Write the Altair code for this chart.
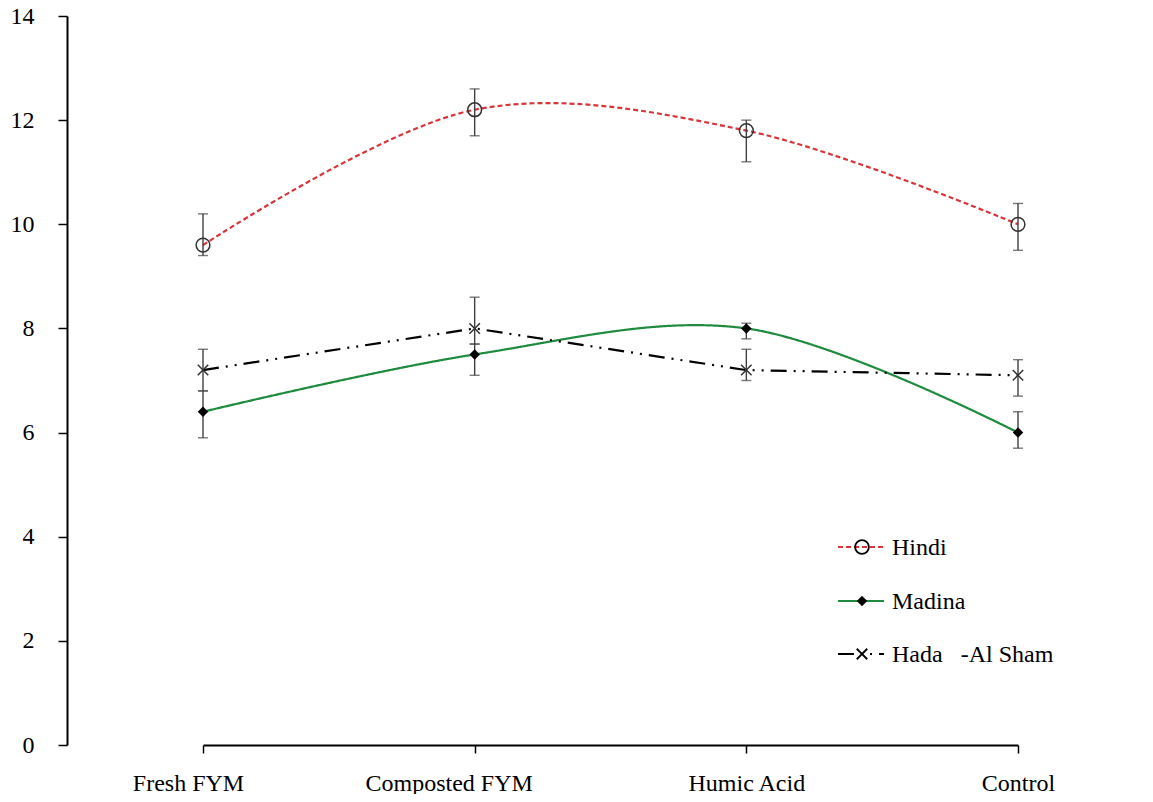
import altair as alt
import pandas as pd

categories = ["Fresh FYM", "Composted FYM", "Humic Acid", "Control"]
series = ["Hindi", "Madina", "Hada  -Al Sham"]

hindi_mean = [9.6, 12.2, 11.8, 10.0]
hindi_lo = [9.4, 11.7, 11.2, 9.5]
hindi_hi = [10.2, 12.6, 12.0, 10.4]

madina_mean = [6.4, 7.5, 8.0, 6.0]
madina_lo = [5.9, 7.1, 7.8, 5.7]
madina_hi = [6.8, 7.7, 8.1, 6.4]

hada_mean = [7.2, 8.0, 7.2, 7.1]
hada_lo = [6.8, 7.7, 7.0, 6.7]
hada_hi = [7.6, 8.6, 7.6, 7.4]

y_ticks = [0, 2, 4, 6, 8, 10, 12, 14]

FONT = "Times New Roman, Liberation Serif, DejaVu Serif, serif"

data = {
    "Hindi": (hindi_mean, hindi_lo, hindi_hi),
    "Madina": (madina_mean, madina_lo, madina_hi),
    "Hada  -Al Sham": (hada_mean, hada_lo, hada_hi),
}

rows = []
for s in series:
    m, lo, hi = data[s]
    for c, v, l, h in zip(categories, m, lo, hi):
        rows.append({"series": s, "cat": c, "value": v, "lo": l, "hi": h})
df = pd.DataFrame(rows)

style = {
    "Hindi": dict(color="#d7353a", dash=[5, 3], interp="catmull-rom",
                  shape="circle", size=190, filled=False, mcolor="#333333"),
    "Madina": dict(color="#1e8b3e", dash=[1, 0], interp="catmull-rom",
                   shape="diamond", size=110, filled=True, mcolor="#000000"),
    "Hada  -Al Sham": dict(color="#000000", dash=[16, 7, 2, 7, 2, 7], interp="linear",
                           shape="M-1,-1L1,1M-1,1L1,-1", size=110, filled=False, mcolor="#333333"),
}

x_enc = alt.X(
    "cat:N",
    sort=categories,
    scale=alt.Scale(type="point", padding=0, range=[136, 951]),
    axis=alt.Axis(
        title=None,
        labelOffset={
            "condition": [
                {"test": "datum.value === 'Fresh FYM'", "value": -15},
                {"test": "datum.value === 'Composted FYM'", "value": -26},
            ],
            "value": 0,
        },
        labelPadding=18,
        tickSize=8,
        labelAngle=0,
    ),
)
y_enc = alt.Y(
    "value:Q",
    scale=alt.Scale(domain=[0, 14], nice=False),
    axis=alt.Axis(title=None, values=y_ticks, tickSize=9, labelPadding=24),
)

layers = []
for s in series:
    st = style[s]
    sub = df[df.series == s]
    base = alt.Chart(sub)
    line = base.mark_line(
        color=st["color"], strokeWidth=2.2, strokeDash=st["dash"],
        interpolate=st["interp"], strokeCap="butt"
    ).encode(x=x_enc, y=y_enc)
    layers.append(line)

for s in series:
    sub = df[df.series == s]
    base = alt.Chart(sub)
    rule = base.mark_rule(color="#404040", strokeWidth=1.4).encode(
        x=x_enc, y=alt.Y("lo:Q"), y2="hi:Q"
    )
    cap_lo = base.mark_tick(color="#404040", thickness=1.4, size=10).encode(
        x=x_enc, y=alt.Y("lo:Q")
    )
    cap_hi = base.mark_tick(color="#404040", thickness=1.4, size=10).encode(
        x=x_enc, y=alt.Y("hi:Q")
    )
    layers += [rule, cap_lo, cap_hi]

for s in series:
    st = style[s]
    sub = df[df.series == s]
    base = alt.Chart(sub)
    if st["filled"]:
        pt = base.mark_point(shape=st["shape"], size=st["size"], filled=True,
                             color=st["mcolor"], opacity=1)
    else:
        pt = base.mark_point(shape=st["shape"], size=st["size"], filled=False,
                             color=st["mcolor"], strokeWidth=1.5, opacity=1)
    layers.append(pt.encode(x=x_enc, y=y_enc))

# manual legend (pixel positions inside plot area)
one = alt.Data(values=[{"k": 0}])
leg_y = {"Hindi": 531, "Madina": 585, "Hada  -Al Sham": 638}
for s in series:
    st = style[s]
    yy = leg_y[s]
    layers.append(
        alt.Chart(one).mark_rule(color=st["color"], strokeWidth=2.2,
                                 strokeDash=st["dash"], strokeCap="butt").encode(
            x=alt.value(771), x2=alt.value(817), y=alt.value(yy)
        )
    )
    if st["filled"]:
        m = alt.Chart(one).mark_point(shape=st["shape"], size=st["size"], filled=True,
                                      color=st["mcolor"], opacity=1)
    else:
        m = alt.Chart(one).mark_point(shape=st["shape"], size=st["size"], filled=False,
                                      color="#000000", strokeWidth=1.8, opacity=1)
    layers.append(m.encode(x=alt.value(795), y=alt.value(yy)))
    layers.append(
        alt.Chart(one).mark_text(
            text=s.replace("  ", "\u00a0\u00a0\u00a0"), font=FONT, fontSize=24,
            color="#000000", align="left", baseline="middle"
        ).encode(x=alt.value(825), y=alt.value(yy + 1))
    )

chart = alt.layer(*layers).properties(
    width=1078, height=729,
    autosize=alt.AutoSizeParams(type="none"),
    padding={"left": 59, "top": 8, "right": 0, "bottom": 49},
).configure_view(stroke=None).configure_axis(
    grid=False,
    domainColor="#000000",
    domainWidth=2,
    tickColor="#000000",
    tickWidth=1.5,
    labelFont=FONT,
    labelFontSize=24,
    labelColor="#000000",
)

chart.save("out.html", embed_options={"renderer": "svg", "actions": False})
